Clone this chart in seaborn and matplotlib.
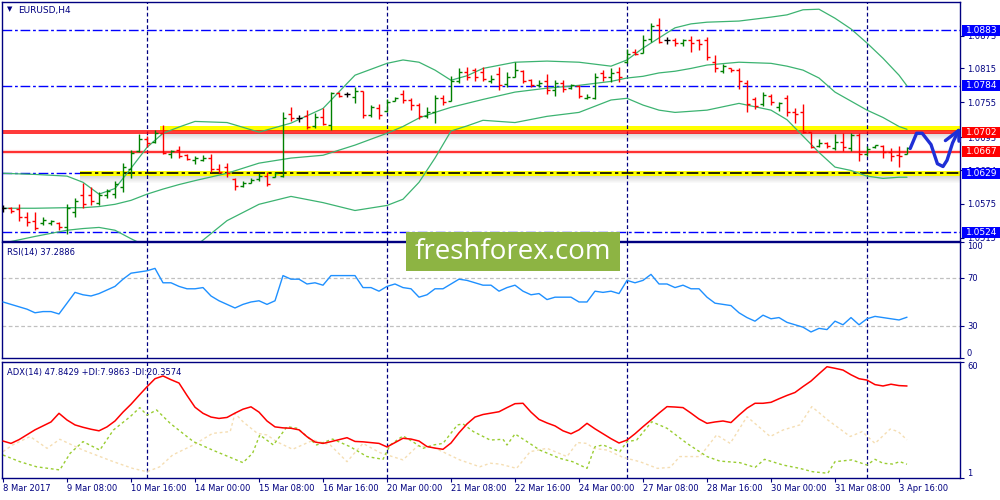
import matplotlib
matplotlib.use("Agg")
import matplotlib.pyplot as plt
from matplotlib.patches import Rectangle
import seaborn as sns
import numpy as np

# ---- EURUSD H4 bars ----
bar_open = [1.0567, 1.0567, 1.0565, 1.0552, 1.0545, 1.0540, 1.0540, 1.0540, 1.0533, 1.0560,
            1.0590, 1.0590, 1.0577, 1.0590, 1.0592, 1.0605, 1.0636, 1.0668, 1.0690, 1.0684,
            1.0700, 1.0664, 1.0670, 1.0661, 1.0652, 1.0653, 1.0657, 1.0636, 1.0640, 1.0618,
            1.0606, 1.0612, 1.0618, 1.0624, 1.0623, 1.0624, 1.0735, 1.0727, 1.0730, 1.0713,
            1.0728, 1.0714, 1.0771, 1.0769, 1.0764, 1.0775, 1.0732, 1.0745, 1.0740, 1.0757,
            1.0769, 1.0759, 1.0750, 1.0730, 1.0737, 1.0762, 1.0758, 1.0793, 1.0809, 1.0812,
            1.0808, 1.0792, 1.0805, 1.0787, 1.0800, 1.0810, 1.0795, 1.0786, 1.0793, 1.0776,
            1.0789, 1.0780, 1.0783, 1.0762, 1.0762, 1.0806, 1.0800, 1.0808, 1.0826, 1.0845,
            1.0843, 1.0867, 1.0892, 1.0866, 1.0866, 1.0860, 1.0866, 1.0865, 1.0866, 1.0826,
            1.0810, 1.0815, 1.0813, 1.0790, 1.0760, 1.0752, 1.0766, 1.0746, 1.0762, 1.0737,
            1.0737, 1.0702, 1.0678, 1.0682, 1.0673, 1.0684, 1.0673, 1.0697, 1.0663, 1.0675,
            1.0677, 1.0666, 1.0662, 1.0664]
bar_high = [1.0572, 1.0570, 1.0574, 1.0561, 1.0561, 1.0551, 1.0547, 1.0542, 1.0574, 1.0586,
            1.0611, 1.0604, 1.0595, 1.0602, 1.0616, 1.0647, 1.0670, 1.0698, 1.0696, 1.0705,
            1.0714, 1.0670, 1.0677, 1.0663, 1.0659, 1.0661, 1.0663, 1.0645, 1.0647, 1.0620,
            1.0616, 1.0620, 1.0629, 1.0631, 1.0631, 1.0737, 1.0746, 1.0732, 1.0741, 1.0736,
            1.0744, 1.0773, 1.0773, 1.0773, 1.0782, 1.0775, 1.0750, 1.0752, 1.0760, 1.0764,
            1.0776, 1.0762, 1.0753, 1.0746, 1.0767, 1.0767, 1.0801, 1.0815, 1.0817, 1.0815,
            1.0817, 1.0803, 1.0817, 1.0808, 1.0826, 1.0812, 1.0796, 1.0794, 1.0805, 1.0794,
            1.0794, 1.0787, 1.0785, 1.0769, 1.0807, 1.0812, 1.0815, 1.0817, 1.0849, 1.0849,
            1.0874, 1.0895, 1.0904, 1.0871, 1.0869, 1.0867, 1.0872, 1.0867, 1.0871, 1.0839,
            1.0823, 1.0815, 1.0815, 1.0794, 1.0764, 1.0773, 1.0769, 1.0755, 1.0767, 1.0744,
            1.0752, 1.0703, 1.0689, 1.0684, 1.0698, 1.0700, 1.0700, 1.0700, 1.0677, 1.0680,
            1.0680, 1.0673, 1.0677, 1.0675]
bar_low = [1.0561, 1.0558, 1.0545, 1.0535, 1.0528, 1.0537, 1.0537, 1.0528, 1.0522, 1.0551,
           1.0567, 1.0572, 1.0572, 1.0586, 1.0586, 1.0595, 1.0620, 1.0666, 1.0675, 1.0682,
           1.0664, 1.0656, 1.0656, 1.0652, 1.0645, 1.0650, 1.0631, 1.0629, 1.0622, 1.0600,
           1.0604, 1.0611, 1.0616, 1.0606, 1.0622, 1.0622, 1.0721, 1.0720, 1.0707, 1.0709,
           1.0714, 1.0705, 1.0764, 1.0764, 1.0753, 1.0727, 1.0728, 1.0725, 1.0737, 1.0757,
           1.0753, 1.0741, 1.0725, 1.0727, 1.0718, 1.0751, 1.0757, 1.0790, 1.0794, 1.0792,
           1.0792, 1.0789, 1.0776, 1.0782, 1.0799, 1.0789, 1.0782, 1.0782, 1.0769, 1.0766,
           1.0773, 1.0778, 1.0762, 1.0760, 1.0760, 1.0792, 1.0791, 1.0791, 1.0824, 1.0839,
           1.0842, 1.0862, 1.0860, 1.0858, 1.0855, 1.0855, 1.0844, 1.0847, 1.0830, 1.0808,
           1.0807, 1.0808, 1.0778, 1.0737, 1.0743, 1.0748, 1.0750, 1.0739, 1.0730, 1.0719,
           1.0700, 1.0673, 1.0675, 1.0673, 1.0671, 1.0668, 1.0668, 1.0650, 1.0659, 1.0673,
           1.0657, 1.0650, 1.0641, 1.0663]
bar_close = [1.0567, 1.0563, 1.0552, 1.0543, 1.0532, 1.0547, 1.0545, 1.0533, 1.0568, 1.0580,
             1.0575, 1.0580, 1.0590, 1.0597, 1.0610, 1.0640, 1.0665, 1.0690, 1.0683, 1.0700,
             1.0665, 1.0668, 1.0660, 1.0655, 1.0657, 1.0657, 1.0636, 1.0632, 1.0630, 1.0606,
             1.0612, 1.0617, 1.0625, 1.0610, 1.0629, 1.0727, 1.0727, 1.0727, 1.0711, 1.0728,
             1.0716, 1.0771, 1.0766, 1.0769, 1.0775, 1.0732, 1.0746, 1.0732, 1.0755, 1.0762,
             1.0759, 1.0750, 1.0730, 1.0737, 1.0762, 1.0756, 1.0793, 1.0808, 1.0800, 1.0799,
             1.0797, 1.0797, 1.0786, 1.0800, 1.0812, 1.0792, 1.0786, 1.0790, 1.0776, 1.0789,
             1.0778, 1.0785, 1.0766, 1.0764, 1.0800, 1.0800, 1.0806, 1.0799, 1.0840, 1.0841,
             1.0865, 1.0890, 1.0862, 1.0866, 1.0860, 1.0866, 1.0860, 1.0858, 1.0836, 1.0815,
             1.0819, 1.0812, 1.0793, 1.0752, 1.0748, 1.0767, 1.0755, 1.0753, 1.0737, 1.0734,
             1.0702, 1.0675, 1.0683, 1.0677, 1.0684, 1.0675, 1.0697, 1.0663, 1.0672, 1.0679,
             1.0666, 1.0659, 1.0660, 1.0673]

# Bollinger bands, read at these bar positions
bb_idx = [0, 4, 8, 10, 12, 14, 16, 18, 20, 22, 24, 28, 32, 36, 40, 44, 48, 50, 52, 54,
          56, 58, 60, 64, 68, 72, 76, 78, 80, 82, 84, 86, 88, 92, 96, 98, 100, 102, 104, 106,
          108, 110, 112, 113]
bb_upper = [1.0629, 1.0627, 1.0624, 1.0613, 1.0592, 1.0602, 1.0638, 1.0675, 1.0700, 1.0711,
            1.0721, 1.0719, 1.0702, 1.0718, 1.0744, 1.0803, 1.0824, 1.0830, 1.0826, 1.0812,
            1.0794, 1.0802, 1.0815, 1.0826, 1.0828, 1.0826, 1.0819, 1.0830, 1.0851, 1.0869,
            1.0887, 1.0894, 1.0897, 1.0899, 1.0906, 1.0910, 1.0919, 1.0920, 1.0904, 1.0885,
            1.0860, 1.0833, 1.0803, 1.0784]
bb_mid = [1.0567, 1.0567, 1.0568, 1.0568, 1.0570, 1.0574, 1.0581, 1.0592, 1.0601, 1.0609,
          1.0616, 1.0629, 1.0647, 1.0656, 1.0661, 1.0679, 1.0700, 1.0712, 1.0727, 1.0737,
          1.0746, 1.0753, 1.0760, 1.0773, 1.0780, 1.0785, 1.0792, 1.0798, 1.0801, 1.0807,
          1.0810, 1.0815, 1.0821, 1.0826, 1.0824, 1.0819, 1.0812, 1.0798, 1.0773, 1.0757,
          1.0741, 1.0728, 1.0712, 1.0707]
bb_lower = [1.0505, 1.0517, 1.0528, 1.0531, 1.0533, 1.0528, 1.0513, 1.0499, 1.0488, 1.0483,
            1.0499, 1.0545, 1.0574, 1.0588, 1.0577, 1.0563, 1.0572, 1.0583, 1.0613, 1.0656,
            1.0704, 1.0713, 1.0723, 1.0719, 1.0730, 1.0737, 1.0759, 1.0762, 1.0750, 1.0741,
            1.0737, 1.0739, 1.0741, 1.0753, 1.0741, 1.0724, 1.0695, 1.0666, 1.0640, 1.0634,
            1.0624, 1.0620, 1.0622, 1.0622]

rsi = [50, 48, 46, 44, 41, 42, 42, 40, 49, 58, 56, 55, 57, 60, 63, 69, 74, 75, 76, 78,
       66, 66, 63, 61, 61, 62, 55, 51, 48, 45, 48, 50, 51, 48, 51, 72, 69, 69, 65, 66,
       64, 72, 72, 72, 72, 62, 62, 59, 63, 65, 62, 61, 54, 56, 61, 61, 65, 69, 68, 66,
       64, 64, 59, 62, 64, 59, 56, 57, 52, 54, 54, 54, 50, 50, 59, 58, 59, 57, 68, 66,
       68, 73, 65, 65, 62, 64, 61, 61, 54, 49, 48, 47, 41, 37, 34, 39, 36, 37, 33, 31,
       29, 25, 28, 27, 34, 31, 37, 31, 36, 38, 37, 36, 35, 37.3]

adx = [19.8, 18.6, 20.5, 23, 25.5, 27.5, 29.5, 33.9, 30.5, 28, 26.8, 25.8, 25, 27, 30,
       34.5, 38.5, 43, 47.4, 51.5, 52.9, 51, 49.3, 43, 37, 33.9, 32, 31.3, 31.8, 34,
       36, 37.2, 34.5, 30, 27, 26.5, 26.3, 25.5, 22, 19.3, 18.6, 19.5, 20.5, 21.5, 19.6,
       19.4, 19, 18.6, 16.8, 19, 21.2, 20.8, 19.8, 17, 16.2, 15.6, 18.8, 24, 28.5, 32,
       33.3, 34, 34.7, 36.8, 38.8, 39, 34.5, 30.8, 29, 27.5, 25, 23.5, 25.5, 28.8, 26,
       23.5, 21, 18.8, 20.3, 23.5, 27.1, 30.5, 34, 37.3, 37.1, 36.8, 34, 31, 28.8, 29.5,
       30, 29.2, 33, 36.5, 39, 39, 39.5, 41.3, 43, 44.5, 47.5, 50.3, 54, 57.6, 56.8,
       55.9, 53.5, 51.5, 50.8, 48.5, 47.8, 48.7, 48, 47.8]

di_plus_idx = [0, 2.1, 4.2, 7.1, 8.4, 10, 12.1, 13.8, 15.9, 17.1, 18, 19.2, 20.9, 23.8, 26.2,
               30, 31.2, 32.1, 33.8, 35.5, 36.8, 39.2, 41.2, 43.4, 45.5, 47.5, 48.4, 50,
               51.2, 52.5, 53.8, 55, 56.8, 57.5, 58.8, 60.9, 62.5, 63, 64, 65.5, 67.1, 69.6,
               71.2, 73, 74, 75, 77.1, 78, 79.2, 81.1, 83, 85.5, 88, 89.6, 92.1, 94, 95.2,
               97.5, 99.6, 101.2, 103.1, 104, 106.1, 108, 109, 110, 111.2, 112.1, 113]
di_plus = [12.7, 9.3, 6.7, 5.1, 13.6, 19.5, 15.2, 25.4, 32.2, 36.8, 33, 35.6, 28.8, 19.5,
           15.2, 8.8, 13.6, 22.9, 17.8, 27.1, 26.3, 17.8, 20.8, 16.9, 11.9, 10.5, 17.8, 22.4,
           19.5, 16.1, 17.8, 18.6, 28, 28.5, 24.6, 20.3, 20.7, 17.8, 23.4, 19.5, 15.2, 11,
           9.3, 5.9, 16.9, 17.8, 14.4, 19.5, 20.3, 29.6, 26.3, 18.6, 11.9, 9.6, 8.8, 6.4,
           10.5, 7.6, 5.9, 4.2, 3.4, 9.3, 10.2, 7.6, 10.5, 8.5, 8.1, 9.3, 8.0]
di_minus_idx = [0, 1.2, 3.4, 5.5, 7.1, 10, 13.8, 16.2, 18, 19.6, 21.2, 23.8, 26.2, 28.4, 29,
                30, 31.8, 33, 34.2, 36.2, 38.8, 40.9, 43, 45, 47.1, 50, 51.8, 53.8, 57.1,
                59.6, 60.9, 62.1, 64.2, 65.9, 68, 70.5, 71.8, 73, 73.8, 75.5, 77.5, 79.6,
                81.8, 83.4, 84.6, 87.1, 89.2, 90.9, 93, 95.9, 97.5, 99.6, 101.1, 103.1,
                105.9, 107.4, 109, 110.9, 111.9, 113]
di_minus = [14.4, 17.8, 22.1, 16.1, 20.7, 15.2, 9.3, 5.9, 4.2, 6.7, 12.7, 17.8, 23.7, 24.6,
            33.9, 29.6, 23.7, 22.9, 19.5, 15.6, 20.3, 17.8, 9.3, 18.6, 13.9, 10.2, 17.2,
            16.6, 10.2, 6.7, 8.5, 8.1, 5.9, 14.4, 16.1, 11.9, 19, 18.6, 16.1, 15.2, 11.5,
            9.3, 5.9, 6.4, 11.9, 11.9, 22.9, 18.6, 32.2, 22.1, 25.4, 28, 37.3, 30.5, 22.1,
            24.6, 18.6, 25.9, 24.6, 20.4]

date_labels = ["8 Mar 2017", "9 Mar 08:00", "10 Mar 16:00", "14 Mar 00:00", "15 Mar 08:00",
               "16 Mar 16:00", "20 Mar 00:00", "21 Mar 08:00", "22 Mar 16:00", "24 Mar 00:00",
               "27 Mar 08:00", "28 Mar 16:00", "30 Mar 00:00", "31 Mar 08:00", "3 Apr 16:00"]
price_ticks = [1.0873, 1.0815, 1.0755, 1.0693, 1.0634, 1.0575, 1.0515]
blue_levels = [1.0883, 1.0784, 1.0629, 1.0524]
red_levels = [1.0702, 1.0667]
separator_idx = [18, 48, 78, 108]

# hand drawn forecast path and arrow head
forecast_idx = [113.4, 114.2, 114.9, 116.0, 116.8, 117.5, 118.0, 118.7, 119.45]
forecast_price = [1.0673, 1.0700, 1.0700, 1.0680, 1.0646, 1.0641, 1.0652, 1.0683, 1.0705]
head_idx = [117.8, 119.45, 119.5]
head_price = [1.0687, 1.0705, 1.0686]

NAVY = "#000080"
BLUE = "#0000ff"
RED = "#ff0000"

sns.set_style("white")
plt.rcParams["font.family"] = ["DejaVu Sans"]

fig = plt.figure(figsize=(10, 5), dpi=100)
ax_main = fig.add_axes([0.002, 0.519, 0.958, 0.477])
ax_rsi = fig.add_axes([0.002, 0.284, 0.958, 0.232])
ax_adx = fig.add_axes([0.002, 0.044, 0.958, 0.232])

xmin, xmax = -0.125, 119.625
idx = np.arange(len(bar_close))

# ---------------- main price panel ----------------
ax = ax_main
for lvl in blue_levels:
    ax.axhline(lvl, color=BLUE, lw=1, ls=(0, (7, 2, 2, 2)), zorder=1)


def shadow(ax, x0, top, n=7, step=0.00018):
    # soft grey shadow under a highlighted level
    for k in range(n):
        ax.fill_between([x0, xmax], top - (k + 1) * step, top - k * step,
                        color="#808080", alpha=0.30 * (1 - k / n), lw=0, zorder=0.9)


# resistance zone 1.0702
ax.fill_between([19.6, xmax], 1.0704, 1.0712, color="#ffff00", lw=0, zorder=1)
shadow(ax, 19.6, 1.0700)
ax.axhline(1.07045, color=RED, lw=1.1, zorder=2)
ax.axhline(1.07005, color=RED, lw=1.1, zorder=2)
# support zone 1.0629
ax.fill_between([9.6, xmax], 1.0625, 1.0633, color="#ffff00", lw=0, zorder=1)
shadow(ax, 9.6, 1.0625)
ax.plot([9.6, xmax], [1.0629, 1.0629], color="black", lw=1.2, ls=(0, (7, 2, 2, 2)), zorder=2)
ax.axhline(1.0667, color="#ffb0b0", lw=3, alpha=0.5, zorder=1)
ax.axhline(1.0667, color=RED, lw=1.1, zorder=2)

# bollinger bands
for band in (bb_upper, bb_mid, bb_lower):
    sns.lineplot(x=bb_idx, y=band, ax=ax, color="#3cb371", lw=0.9, zorder=2)

# OHLC bars
o = np.array(bar_open)
c = np.array(bar_close)
bar_colors = np.where(c > o, "#008000", np.where(c < o, RED, "#000000"))
ax.vlines(idx, bar_low, bar_high, colors=bar_colors, lw=1.0, zorder=3)
ax.hlines(o, idx - 0.38, idx, colors=bar_colors, lw=1.0, zorder=3)
ax.hlines(c, idx, idx + 0.38, colors=bar_colors, lw=1.0, zorder=3)

# forecast drawing
ax.plot(forecast_idx, forecast_price, color="#1f2fd6", lw=2.4, solid_capstyle="round",
        solid_joinstyle="round", clip_on=False, zorder=6)
ax.plot(head_idx, head_price, color="#1f2fd6", lw=2.4, solid_capstyle="round",
        solid_joinstyle="round", clip_on=False, zorder=6)

ax.set_ylim(1.05098, 1.09328)
ax.set_yticks(price_ticks, [f"{p:.4f}" for p in price_ticks])

# coloured price boxes on the right scale
ytr = ax.get_yaxis_transform()
box_h = 0.00196
for lvl in blue_levels + red_levels:
    col = RED if lvl in red_levels else BLUE
    ax.add_patch(Rectangle((1.002, lvl - box_h / 2), 0.05, box_h, transform=ytr,
                           fc=col, ec="none", clip_on=False, zorder=10))
    ax.text(1.0062, lvl, f"{lvl:.4f}", transform=ytr, color="white", fontsize=6.5,
            va="center", ha="left", zorder=11, clip_on=False)

# ---------------- RSI panel ----------------
sns.lineplot(x=idx, y=rsi, ax=ax_rsi, color="#1e90ff", lw=1, zorder=3)
for lvl in (70, 30):
    ax_rsi.axhline(lvl, color="#c0c0c0", lw=0.9, ls=(0, (3, 2)), zorder=1)
ax_rsi.set_ylim(3.3, 100)
ax_rsi.set_yticks([100, 70, 30, 3.3], ["100", "70", "30", "0"])

# ---------------- ADX panel ----------------
sns.lineplot(x=di_minus_idx, y=di_minus, ax=ax_adx, color="#f5deb3", lw=1, ls=(0, (2, 2)), zorder=2)
sns.lineplot(x=di_plus_idx, y=di_plus, ax=ax_adx, color="#9acd32", lw=1, ls=(0, (2, 2)), zorder=2)
sns.lineplot(x=idx, y=adx, ax=ax_adx, color=RED, lw=1.1, zorder=3)
ax_adx.set_ylim(1, 60)
ax_adx.set_yticks([60, 1], ["60", "1"])
ax_adx.set_xticks(list(range(0, 113, 8)), date_labels)

# ---------------- common styling ----------------
for a in (ax_main, ax_rsi, ax_adx):
    a.set_xlim(xmin, xmax)
    a.set_xlabel("")
    a.set_ylabel("")
    for s in a.spines.values():
        s.set_color(NAVY)
        s.set_linewidth(1)
    for i in separator_idx:
        a.axvline(i, color=NAVY, lw=0.9, ls=(0, (3, 2)), zorder=1)
    a.yaxis.tick_right()
    a.tick_params(axis="y", direction="out", length=3, width=0.8, color=NAVY,
                  labelsize=6, labelcolor=NAVY, pad=2, left=False, right=True)
    a.grid(False)

for a in (ax_main, ax_rsi):
    a.tick_params(axis="x", bottom=False, labelbottom=False)
ax_adx.tick_params(axis="x", direction="out", length=3, width=0.8, color=NAVY,
                   labelsize=6, labelcolor=NAVY, pad=1, bottom=True)
for lbl in ax_adx.get_xticklabels():
    lbl.set_horizontalalignment("left")

for a in (ax_rsi, ax_adx):
    labels = a.get_yticklabels()
    labels[0].set_verticalalignment("top")
    labels[-1].set_verticalalignment("bottom")

# panel captions
fig.text(0.0095, 0.981, "\u25bc", fontsize=5, color=NAVY, ha="center", va="center")
fig.text(0.018, 0.98, "EURUSD,H4", fontsize=6.5, color=NAVY, va="center")
fig.text(0.007, 1 - 252 / 500, "RSI(14) 37.2886", fontsize=6, color=NAVY, va="center")
fig.text(0.007, 1 - 372 / 500, "ADX(14) 47.8429 +DI:7.9863 -DI:20.3574", fontsize=6,
         color=NAVY, va="center")

# watermark
fig.add_artist(Rectangle((0.406, 0.458), 0.214, 0.078, transform=fig.transFigure,
                         fc="#8db443", ec="none", zorder=20))
fig.text(0.513, 0.496, "freshforex.com", fontsize=20, family="Open Sans", color="white",
         ha="center", va="center", zorder=21)

fig.savefig("out.png", dpi=100)
